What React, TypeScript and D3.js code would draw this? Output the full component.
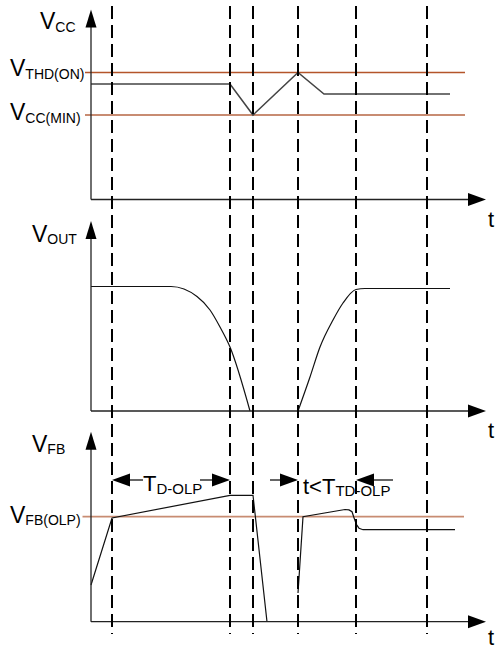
import React from 'react';
import * as d3 from 'd3';

// time marks (dashed verticals), arbitrary time units
const timeMarks = [21, 139, 162, 207, 265, 336];

// VCC panel
const vccLevels = { thdOn: 12.7, ccMin: 8.45 };
const vccTrace: [number, number][] = [
  [0, 11.55], [139, 11.55], [162, 8.45], [207, 12.7], [233, 10.55], [359, 10.55],
];

// VOUT panel
const voutFall: [number, number][] = [
  [0, 12.45], [80, 12.45], [106, 11.45], [119, 10.1], [129, 8.4], [139, 6.4], [159, 0],
];
const voutRise: [number, number][] = [
  [207, 0], [219, 3.4], [229, 6.4], [242, 9.1], [252, 10.8], [265, 12.15], [274, 12.25], [359, 12.25],
];

// VFB panel
const vfbOlp = 10.5;
const vfbFirst: [number, number][] = [
  [0, 3.67], [21, 10.37], [139, 12.64], [162, 12.64], [176, 0],
];
const vfbSecond: [number, number][] = [
  [207, 2.87], [212, 10.5], [254, 11.22], [258, 11.18], [261, 11.0], [263, 10.4],
  [265.5, 9.7], [268, 9.35], [272, 9.2], [364, 9.2],
];

const W = 496;
const H = 650;

const x = d3.scaleLinear().domain([0, 400]).range([91, 491]);
const yVcc = d3.scaleLinear().domain([0, 19]).range([199.5, 9.5]);
const yOut = d3.scaleLinear().domain([0, 19]).range([411, 221]);
const yFb = d3.scaleLinear().domain([0, 19]).range([621.7, 431.7]);

const FONT = '"Liberation Sans", Arial, sans-serif';
const ORANGE_DARK = '#b4552a';
const ORANGE_LIGHT = '#c88c72';
const AXIS = '#222';

function Axes({ y }: { y: d3.ScaleLinear<number, number> }) {
  const x0 = x(0);
  const y0 = y(0);
  const xEnd = x(395);
  const yTop = y(19);
  return (
    <g>
      <line x1={x0} y1={y0} x2={xEnd - 16} y2={y0} stroke={AXIS} strokeWidth={1.3} />
      <polygon points={`${xEnd},${y0} ${xEnd - 18},${y0 - 6.5} ${xEnd - 18},${y0 + 6.5}`} fill="#000" />
      <line x1={x0} y1={y0} x2={x0} y2={yTop + 16} stroke={AXIS} strokeWidth={1.3} />
      <polygon points={`${x0},${yTop} ${x0 - 5.5},${yTop + 18} ${x0 + 5.5},${yTop + 18}`} fill="#000" />
    </g>
  );
}

function Label({ px, py, main, sub, dy = 3, size = 23, subSize = 14 }: any) {
  return (
    <text x={px} y={py} fontFamily={FONT} fontSize={size} fill="#000">
      <tspan>{main}</tspan>
      <tspan fontSize={subSize} dy={dy}>{sub}</tspan>
    </text>
  );
}

function Arrow({ tip, from, py }: { tip: number; from: number; py: number }) {
  const dir = tip > from ? 1 : -1;
  const base = tip - dir * 18;
  return (
    <g>
      <line x1={from} y1={py} x2={base} y2={py} stroke="#000" strokeWidth={1.2} />
      <polygon points={`${tip},${py} ${base},${py - 6.5} ${base},${py + 6.5}`} fill="#000" />
    </g>
  );
}

export default function App() {
  const lineVcc = d3.line<[number, number]>().x(d => x(d[0])).y(d => yVcc(d[1]));
  const lineOut = d3
    .line<[number, number]>()
    .x(d => x(d[0]))
    .y(d => yOut(d[1]))
    .curve(d3.curveMonotoneX);
  const lineFb = d3.line<[number, number]>().x(d => x(d[0])).y(d => yFb(d[1]));

  return (
    <svg width={W} height={H} style={{ position: 'absolute', left: 0, top: 0, background: '#fff' }}>
      {/* VCC panel */}
      <line x1={x(-6)} x2={x(374)} y1={yVcc(vccLevels.thdOn)} y2={yVcc(vccLevels.thdOn)} stroke={ORANGE_DARK} strokeWidth={1.5} />
      <line x1={x(-6)} x2={x(374)} y1={yVcc(vccLevels.ccMin)} y2={yVcc(vccLevels.ccMin)} stroke={ORANGE_LIGHT} strokeWidth={1.8} />
      <path d={lineVcc(vccTrace) || ''} fill="none" stroke="#444" strokeWidth={1.5} />
      <Axes y={yVcc} />

      {/* VOUT panel */}
      <path d={lineOut(voutFall) || ''} fill="none" stroke="#111" strokeWidth={1.2} />
      <path d={lineOut(voutRise) || ''} fill="none" stroke="#111" strokeWidth={1.2} />
      <Axes y={yOut} />

      {/* VFB panel */}
      <line x1={x(-8.5)} x2={x(373)} y1={yFb(vfbOlp)} y2={yFb(vfbOlp)} stroke={ORANGE_LIGHT} strokeWidth={1.8} />
      <path d={lineFb(vfbFirst) || ''} fill="none" stroke="#111" strokeWidth={1.2} />
      <path d={lineFb(vfbSecond) || ''} fill="none" stroke="#111" strokeWidth={1.2} />
      <Axes y={yFb} />

      {/* dashed time marks */}
      {timeMarks.map((t, i) => (
        <line key={i} x1={x(t)} x2={x(t)} y1={6} y2={634} stroke="#000" strokeWidth={2} strokeDasharray="13,6" />
      ))}

      {/* labels */}
      <Label px={40} py={29} main="V" sub="CC" />
      <Label px={10} py={76} main="V" sub="THD(ON)" />
      <Label px={10} py={120} main="V" sub="CC(MIN)" />
      <Label px={32} py={242} main="V" sub="OUT" dy={2} />
      <Label px={32} py={452} main="V" sub="FB" dy={2} />
      <Label px={10} py={523} main="V" sub="FB(OLP)" dy={2} />

      {[227, 438, 645].map((yy, i) => (
        <text key={i} x={488} y={yy} fontFamily={FONT} fontSize={22} fill="#000">t</text>
      ))}

      {/* TD-OLP annotation */}
      <Arrow tip={x(21)} from={x(52)} py={480} />
      <Label px={x(52)} py={491} main="T" sub="D-OLP" dy={3} size={22} subSize={15} />
      <Arrow tip={x(139)} from={x(109)} py={480} />

      {/* t<TTD-OLP annotation */}
      <Arrow tip={x(207)} from={x(179)} py={480} />
      <Label px={x(212)} py={494} main="t<T" sub="TD-OLP" dy={2} size={22} subSize={15} />
      <Arrow tip={x(265)} from={x(302)} py={480} />
    </svg>
  );
}
